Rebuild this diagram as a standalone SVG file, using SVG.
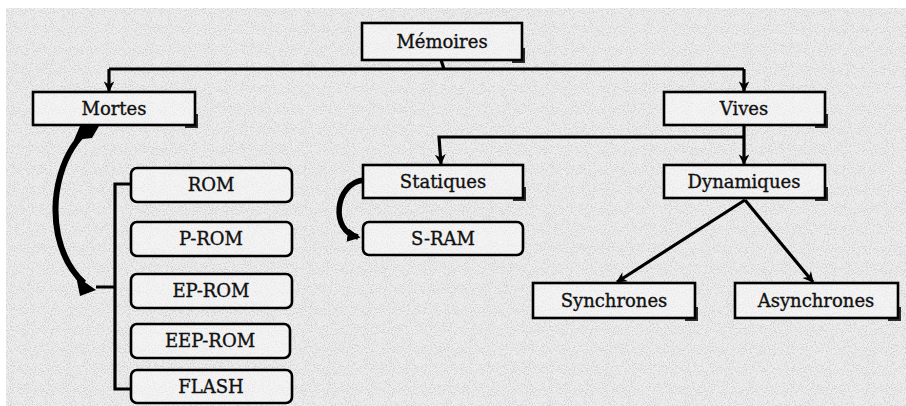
<svg xmlns="http://www.w3.org/2000/svg" width="906" height="406" viewBox="0 0 906 406">
<defs>
<filter id="noise" x="0" y="0" width="100%" height="100%">
<feTurbulence type="fractalNoise" baseFrequency="0.95" numOctaves="2" seed="3" result="t"/>
<feColorMatrix in="t" type="matrix" values="0 0 0 0 0.6  0 0 0 0 0.6  0 0 0 0 0.63  0 0 0 -3 1.65" result="n"/>
<feComposite in="n" in2="SourceGraphic" operator="over"/>
</filter>
<marker id="ah" viewBox="0 0 10 10" refX="9" refY="5" markerWidth="3.4" markerHeight="3.4" orient="auto" markerUnits="strokeWidth">
<path d="M0,0 L10,5 L0,10 L3,5 Z" fill="#000"/>
</marker>
<marker id="ahb" viewBox="0 0 10 10" refX="8" refY="5" markerWidth="2.4" markerHeight="2.4" orient="auto" markerUnits="strokeWidth">
<path d="M0,0 L10,5 L0,10 Z" fill="#000"/>
</marker>
</defs>
<style>
.box{fill:#fafafa;fill-opacity:0.55;stroke:#000;stroke-width:2.6}
.sh{fill:none;stroke:#000;stroke-width:2;opacity:0.8}
.lbl{font-family:"DejaVu Serif","Liberation Serif",serif;font-size:18px;text-anchor:middle;fill:#111;stroke:#111;stroke-width:0.35}
.ln{fill:none;stroke:#000;stroke-width:3.2}
</style>
<rect x="0" y="0" width="906" height="406" fill="#fff"/>
<rect x="6" y="8" width="900" height="398" fill="#eeeeee" filter="url(#noise)"/>

<g id="connectors">
<path class="ln" d="M441,60 L444,69"/>
<path class="ln" d="M109,69 H744"/>
<path class="ln" d="M109,69 V91" marker-end="url(#ah)"/>
<path class="ln" d="M744,69 V91" marker-end="url(#ah)"/>
<path class="ln" d="M744,125 V164" marker-end="url(#ah)"/>
<path class="ln" d="M744,137 H439 L441,164" marker-end="url(#ah)"/>
<path class="ln" d="M745,200 L617,282" marker-end="url(#ah)"/>
<path class="ln" d="M745,200 L813,282" marker-end="url(#ah)"/>
<path class="ln" stroke-width="2.6" d="M131,184 H115 V389 H131 M115,287 H96"/>
<path fill="none" stroke="#000" stroke-width="5.5" d="M364,180 C334,183 330,232 358,237" marker-end="url(#ahb)"/>
<path fill="none" stroke="#000" stroke-width="6" d="M90,128 C62,150 50,195 58,235 C63,258 73,273 84,283"/>
<path fill="#000" d="M80,126 L99,126 L92,138 L74,140 Z"/>
<path fill="#000" d="M76,276 L96,290 L80,296 Z"/>
</g>

<g id="n-memoires"><rect class="box" x="362" y="23" width="160" height="37"/><path class="sh" d="M524,48 V62 H512"/><text class="lbl" x="442" y="48">Mémoires</text></g>
<g id="n-mortes"><rect class="box" x="33" y="92" width="162" height="33"/><path class="sh" d="M197,114 V127 H185"/><text class="lbl" x="114" y="115">Mortes</text></g>
<g id="n-vives"><rect class="box" x="664" y="92" width="161" height="33"/><path class="sh" d="M827,114 V127 H815"/><text class="lbl" x="744" y="115">Vives</text></g>
<g id="n-statiques"><rect class="box" x="363" y="165" width="160" height="33"/><path class="sh" d="M525,187 V200 H513"/><text class="lbl" x="443" y="188">Statiques</text></g>
<g id="n-sram"><rect class="box" x="363" y="222" width="160" height="33" rx="6"/><text class="lbl" x="443" y="245">S-RAM</text></g>
<g id="n-dynamiques"><rect class="box" x="664" y="165" width="161" height="33"/><path class="sh" d="M827,187 V200 H815"/><text class="lbl" x="744" y="188">Dynamiques</text></g>
<g id="n-synchrones"><rect class="box" x="533" y="283" width="162" height="35"/><path class="sh" d="M697,307 V320 H685"/><text class="lbl" x="614" y="307">Synchrones</text></g>
<g id="n-asynchrones"><rect class="box" x="735" y="283" width="163" height="35"/><path class="sh" d="M900,307 V320 H888"/><text class="lbl" x="816" y="307">Asynchrones</text></g>
<g id="n-rom"><rect class="box" x="131" y="168" width="161" height="34" rx="6"/><text class="lbl" x="211" y="191">ROM</text></g>
<g id="n-prom"><rect class="box" x="131" y="222" width="161" height="34" rx="6"/><text class="lbl" x="211" y="245">P-ROM</text></g>
<g id="n-eprom"><rect class="box" x="131" y="274" width="161" height="34" rx="6"/><text class="lbl" x="211" y="297">EP-ROM</text></g>
<g id="n-eeprom"><rect class="box" x="131" y="324" width="159" height="34" rx="6"/><text class="lbl" x="210" y="347">EEP-ROM</text></g>
<g id="n-flash"><rect class="box" x="131" y="370" width="161" height="33" rx="6"/><text class="lbl" x="211" y="393">FLASH</text></g>
</svg>
